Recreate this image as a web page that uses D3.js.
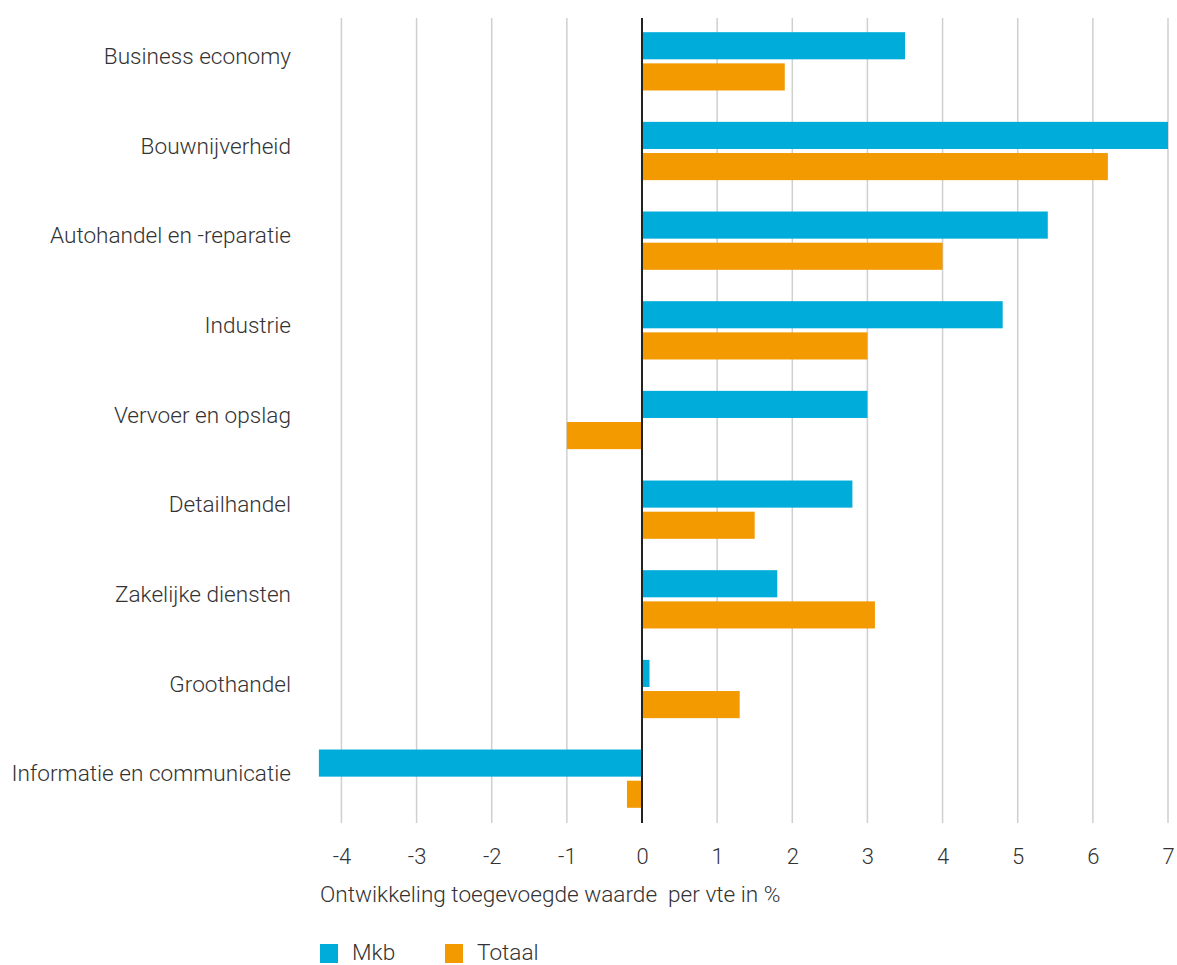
<!DOCTYPE html>
<html><head><meta charset="utf-8">
<script src="https://cdn.jsdelivr.net/npm/d3@7"></script>
<style>
html,body{margin:0;padding:0;background:#fff;}
svg text{font-family:Roboto, "Noto Sans", sans-serif;font-weight:300;fill:#333;}
</style></head>
<body><svg id="chart" width="1177" height="965"></svg>
<script>
const categories = ["Business economy","Bouwnijverheid","Autohandel en -reparatie","Industrie","Vervoer en opslag","Detailhandel","Zakelijke diensten","Groothandel","Informatie en communicatie"];
const seriesNames = ["Mkb","Totaal"];
const mkbValues = [3.5, 7.0, 5.4, 4.8, 3.0, 2.8, 1.8, 0.1, -4.3];
const totaalValues = [1.9, 6.2, 4.0, 3.0, -1.0, 1.5, 3.1, 1.3, -0.2];
const tickValues = [-4,-3,-2,-1,0,1,2,3,4,5,6,7];
const colors = ["#00acd9", "#f39a00"];
const axisTitle = "Ontwikkeling toegevoegde waarde  per vte in %";

const svg = d3.select("#chart");
const x = d3.scaleLinear().domain([0, 7]).range([642, 1168]);
const y0 = d3.scaleBand().domain(categories).range([16.5, 823.5]).paddingInner(0.35).paddingOuter(0.175);
const y1 = d3.scaleBand().domain(seriesNames).range([0, y0.bandwidth()]).paddingInner(0.13);

const gridTop = 18, gridBottom = 823;
svg.append("g").selectAll("line").data(tickValues.filter(d => d !== 0)).join("line")
  .attr("x1", d => x(d)).attr("x2", d => x(d))
  .attr("y1", gridTop).attr("y2", gridBottom)
  .attr("stroke", "#cfcfcf").attr("stroke-width", 1.5);

const data = categories.map((c, i) => ({c, vals: [mkbValues[i], totaalValues[i]]}));
const groups = svg.append("g").selectAll("g").data(data).join("g")
  .attr("transform", d => `translate(0,${y0(d.c)})`);
groups.selectAll("rect").data(d => d.vals.map((v, j) => ({v, s: seriesNames[j], j}))).join("rect")
  .attr("x", d => x(Math.min(0, d.v)))
  .attr("width", d => Math.abs(x(d.v) - x(0)))
  .attr("y", d => y1(d.s))
  .attr("height", y1.bandwidth())
  .attr("fill", d => colors[d.j]);

svg.append("line").attr("x1", x(0)).attr("x2", x(0)).attr("y1", gridTop).attr("y2", gridBottom)
  .attr("stroke", "#222").attr("stroke-width", 2);

const xAxis = d3.axisBottom(x).tickValues(tickValues).tickSize(0).tickPadding(0).tickFormat(d => String(d));
const gx = svg.append("g").attr("transform", "translate(0,847)").call(xAxis);
gx.select(".domain").remove();
gx.selectAll("text").attr("font-size", 22).attr("dy", "0.75em").style("font-family", "Roboto, sans-serif").style("font-weight", 300).attr("fill", "#333");

const yAxis = d3.axisLeft(y0).tickSize(0).tickPadding(0);
const gy = svg.append("g").attr("transform", "translate(291,0)").call(yAxis);
gy.select(".domain").remove();
gy.selectAll("text").attr("font-size", 22.6).attr("dy", "0.12em").style("font-family", "Roboto, sans-serif").style("font-weight", 300).attr("fill", "#333");

svg.append("text").attr("x", 320).attr("y", 902).attr("font-size", 22.6).style("white-space", "pre").text(axisTitle);

const legendX = [320, 445];
const leg = svg.append("g").selectAll("g").data(seriesNames).join("g")
  .attr("transform", (d, i) => `translate(${legendX[i]},944)`);
leg.append("rect").attr("width", 18).attr("height", 19).attr("fill", (d, i) => colors[i]);
leg.append("text").attr("x", 32).attr("y", 16).attr("font-size", 22.6).text(d => d);
</script></body></html>
